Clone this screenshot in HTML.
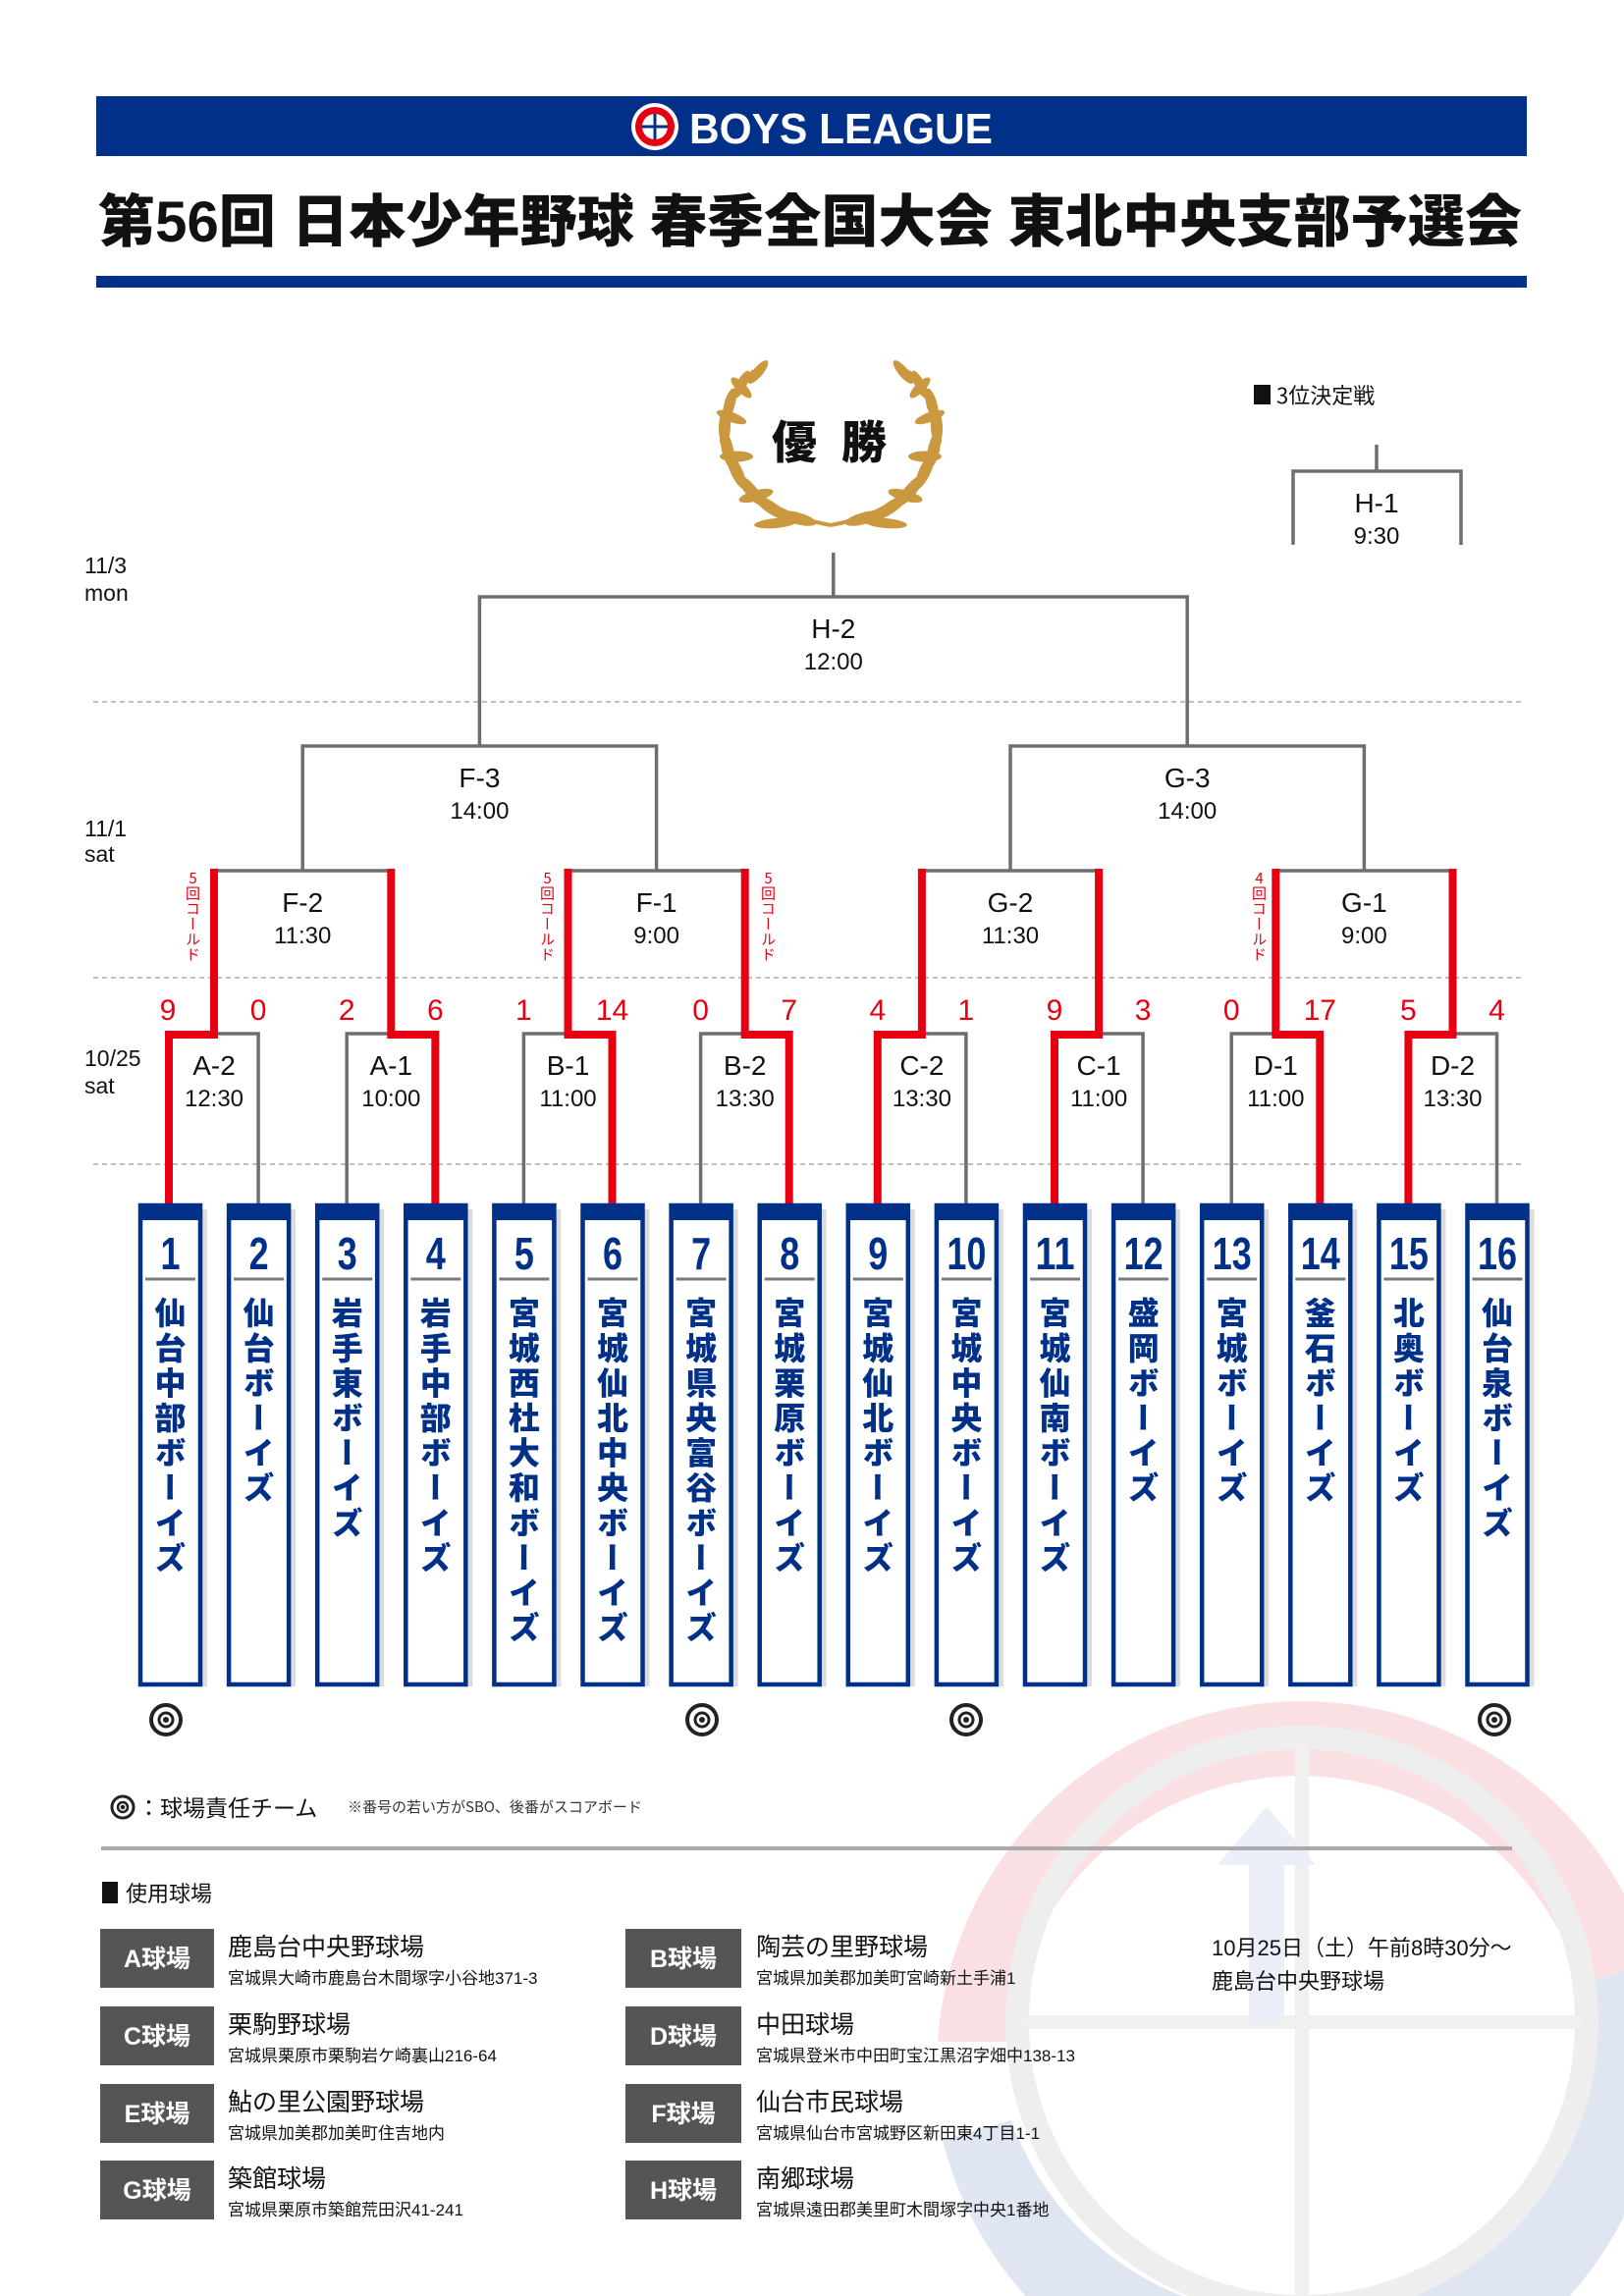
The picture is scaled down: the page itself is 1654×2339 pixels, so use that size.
<!DOCTYPE html>
<html><head><meta charset="utf-8">
<style>
html,body{margin:0;padding:0;background:#fff;width:1654px;height:2339px;overflow:hidden;}
body{position:relative;font-family:"Liberation Sans","Noto Sans CJK JP",sans-serif;}
svg{position:absolute;left:0;top:0;}
.nm{position:absolute;top:1321px;width:40px;writing-mode:vertical-rl;text-orientation:upright;font-family:"Noto Sans CJK JP",sans-serif;font-weight:900;font-size:32px;line-height:40px;letter-spacing:3.6px;color:#003087;}
.cd{position:absolute;top:887px;width:16px;writing-mode:vertical-rl;text-orientation:upright;font-family:"Noto Sans CJK JP",sans-serif;font-size:15px;line-height:16px;letter-spacing:0.5px;color:#e60012;}
</style></head><body>
<svg width="1654" height="2339" viewBox="0 0 1654 2339" xmlns="http://www.w3.org/2000/svg">
<defs>
<g id="bx">
 <rect x="5" y="1232" width="65" height="486" fill="#dcdcdc"/>
 <rect x="2" y="1228" width="61" height="488" fill="#fff" stroke="#003087" stroke-width="4.5"/>
 <rect x="0" y="1226" width="65" height="17" fill="#003087"/>
 <line x1="7" y1="1303" x2="58" y2="1303" stroke="#7a7a7a" stroke-width="3"/>
</g>
</defs>
<!-- watermark -->
<g opacity="0.35">
  <path d="M 955 2080 A 372 372 0 0 1 1683 2000 L 1610 2020 A 300 300 0 0 0 1025 2080 Z" fill="#f2a9b0"/>
  <path d="M 1683 2000 A 372 372 0 0 1 960 2180 L 1030 2160 A 300 300 0 0 0 1610 2020 Z" fill="#a9b6dc"/>
  <circle cx="1326" cy="2060" r="290" fill="none" stroke="#cfcfcf" stroke-width="24"/>
  <line x1="1326" y1="1775" x2="1326" y2="2339" stroke="#d6d6d6" stroke-width="14"/>
  <line x1="1040" y1="2060" x2="1612" y2="2060" stroke="#d6d6d6" stroke-width="14"/>
  <path d="M 1272 2060 L 1272 1900 L 1240 1900 L 1290 1840 L 1340 1900 L 1308 1900 L 1308 2060 Z" fill="#c9d2ea"/>
</g>
<!-- header -->
<rect x="98" y="98" width="1457" height="61" fill="#003087"/>
<circle cx="667" cy="129" r="24" fill="#fff"/>
<circle cx="667" cy="129" r="20" fill="#e60012"/>
<circle cx="667" cy="129" r="13" fill="#fff"/>
<line x1="667" y1="116" x2="667" y2="142" stroke="#003087" stroke-width="3"/>
<line x1="654" y1="129" x2="680" y2="129" stroke="#003087" stroke-width="3"/>
<text x="702" y="146" font-family="Liberation Sans" font-weight="bold" font-size="44" fill="#fff" textLength="309" lengthAdjust="spacingAndGlyphs">BOYS LEAGUE</text>
<text x="100" y="246" font-family="Liberation Sans, Noto Sans CJK JP, sans-serif" font-weight="900" font-size="58" fill="#111" textLength="1450" lengthAdjust="spacingAndGlyphs">第56回 日本少年野球 春季全国大会 東北中央支部予選会</text>
<rect x="98" y="281" width="1457" height="12" fill="#003087"/>

<!-- laurel -->
<g fill="#c9983f">
 <g id="lh">
  <path d="M 846 535 Q 760 520 735 450 Q 738 400 768 378" fill="none" stroke="#c9983f" stroke-width="4"/>
  <ellipse cx="812" cy="528" rx="20" ry="6" transform="rotate(195 812 528)"/>
  <ellipse cx="785" cy="517" rx="20" ry="6" transform="rotate(215 785 517)"/>
  <ellipse cx="765" cy="500" rx="20" ry="6" transform="rotate(230 765 500)"/>
  <ellipse cx="750" cy="480" rx="20" ry="6" transform="rotate(245 750 480)"/>
  <ellipse cx="741" cy="458" rx="19" ry="6" transform="rotate(258 741 458)"/>
  <ellipse cx="738" cy="435" rx="18" ry="6" transform="rotate(272 738 435)"/>
  <ellipse cx="743" cy="412" rx="17" ry="5.5" transform="rotate(285 743 412)"/>
  <ellipse cx="755" cy="392" rx="16" ry="5" transform="rotate(298 755 392)"/>
  <ellipse cx="772" cy="379" rx="15" ry="5" transform="rotate(310 772 379)"/>
  <ellipse cx="770" cy="505" rx="18" ry="5.5" transform="rotate(165 770 505)"/>
  <ellipse cx="750" cy="465" rx="17" ry="5.5" transform="rotate(180 750 465)"/>
  <ellipse cx="745" cy="425" rx="16" ry="5" transform="rotate(200 745 425)"/>
  <ellipse cx="755" cy="395" rx="14" ry="5" transform="rotate(225 755 395)"/>
  <ellipse cx="790" cy="533" rx="22" ry="5" transform="rotate(175 790 533)"/>
 </g>
 <use href="#lh" transform="translate(1692,0) scale(-1,1)"/>
</g>
<text x="786" y="467" font-family="Noto Sans CJK JP, sans-serif" font-weight="900" font-size="46" fill="#111">優</text>
<text x="857" y="467" font-family="Noto Sans CJK JP, sans-serif" font-weight="900" font-size="46" fill="#111">勝</text>

<!-- 3位決定戦 -->
<rect x="1277" y="392" width="17" height="20" fill="#111"/>
<text x="1300" y="411" font-family="Noto Sans CJK JP, sans-serif" font-size="22" fill="#111">3位決定戦</text>

<!-- dashed -->
<g stroke="#aaa" stroke-width="1.5" stroke-dasharray="5 4">
<line x1="95" y1="715" x2="1552" y2="715"/>
<line x1="95" y1="996" x2="1552" y2="996"/>
<line x1="95" y1="1186" x2="1552" y2="1186"/>
</g>

<!-- dates -->
<g font-family="Liberation Sans, sans-serif" font-size="23" fill="#111">
<text x="86" y="584">11/3</text><text x="86" y="612">mon</text>
<text x="86" y="852">11/1</text><text x="86" y="878">sat</text>
<text x="86" y="1086">10/25</text><text x="86" y="1114">sat</text>
</g>

<!-- gray bracket lines -->
<g fill="none" stroke="#6e6e6e" stroke-width="3.5" stroke-linejoin="miter">
<path d="M1402 453 V480 M1317 555 V480 H1488 V555"/>
<path d="M848.8 563 V608 M488.4 760 V608 H1209.2 V760"/>
<path d="M308.2 887 V760 H668.6 V887"/>
<path d="M1029 887 V760 H1389.4 V887"/>
<path d="M218 1053 V887 H398.3 V1053"/>
<path d="M578.5 1053 V887 H758.7 V1053"/>
<path d="M938.9 1053 V887 H1119.1 V1053"/>
<path d="M1299.3 1053 V887 H1479.5 V1053"/>
<path d="M173 1226 V1053 H263.1 V1226"/>
<path d="M353.2 1226 V1053 H443.3 V1226"/>
<path d="M533.4 1226 V1053 H623.5 V1226"/>
<path d="M713.6 1226 V1053 H803.7 V1226"/>
<path d="M893.8 1226 V1053 H983.9 V1226"/>
<path d="M1074 1226 V1053 H1164.1 V1226"/>
<path d="M1254.2 1226 V1053 H1344.3 V1226"/>
<path d="M1434.4 1226 V1053 H1524.5 V1226"/>
</g>
<!-- red winner paths -->
<g fill="none" stroke="#e60012" stroke-width="8" stroke-linejoin="miter">
<path d="M172 1226 V1054 H218 V885"/>
<path d="M443.3 1226 V1054 H398.3 V885"/>
<path d="M623.5 1226 V1054 H578.5 V885"/>
<path d="M803.7 1226 V1054 H758.7 V885"/>
<path d="M893.8 1226 V1054 H938.9 V885"/>
<path d="M1074 1226 V1054 H1119.1 V885"/>
<path d="M1344.3 1226 V1054 H1299.3 V885"/>
<path d="M1434.4 1226 V1054 H1479.5 V885"/>
</g>

<!-- match labels -->
<g font-family="Liberation Sans, sans-serif" fill="#111" text-anchor="middle">
<g font-size="28">
<text x="1402" y="522">H-1</text>
<text x="848.8" y="650">H-2</text>
<text x="488.4" y="802">F-3</text><text x="1209.2" y="802">G-3</text>
<text x="308.2" y="929">F-2</text><text x="668.6" y="929">F-1</text><text x="1029" y="929">G-2</text><text x="1389.4" y="929">G-1</text>
<text x="218" y="1095">A-2</text><text x="398.3" y="1095">A-1</text><text x="578.5" y="1095">B-1</text><text x="758.7" y="1095">B-2</text>
<text x="938.9" y="1095">C-2</text><text x="1119.1" y="1095">C-1</text><text x="1299.3" y="1095">D-1</text><text x="1479.5" y="1095">D-2</text>
</g>
<g font-size="24">
<text x="1402" y="554">9:30</text>
<text x="848.8" y="682">12:00</text>
<text x="488.4" y="834">14:00</text><text x="1209.2" y="834">14:00</text>
<text x="308.2" y="961">11:30</text><text x="668.6" y="961">9:00</text><text x="1029" y="961">11:30</text><text x="1389.4" y="961">9:00</text>
<text x="218" y="1127">12:30</text><text x="398.3" y="1127">10:00</text><text x="578.5" y="1127">11:00</text><text x="758.7" y="1127">13:30</text>
<text x="938.9" y="1127">13:30</text><text x="1119.1" y="1127">11:00</text><text x="1299.3" y="1127">11:00</text><text x="1479.5" y="1127">13:30</text>
</g>
</g>

<!-- scores -->
<g font-family="Liberation Sans, sans-serif" font-size="30" fill="#e60012" text-anchor="middle">
<text x="171" y="1039">9</text><text x="263.1" y="1039">0</text><text x="353.2" y="1039">2</text><text x="443.3" y="1039">6</text>
<text x="533.4" y="1039">1</text><text x="623.5" y="1039">14</text><text x="713.6" y="1039">0</text><text x="803.7" y="1039">7</text>
<text x="893.8" y="1039">4</text><text x="983.9" y="1039">1</text><text x="1074" y="1039">9</text><text x="1164.1" y="1039">3</text>
<text x="1254.2" y="1039">0</text><text x="1344.3" y="1039">17</text><text x="1434.4" y="1039">5</text><text x="1524.5" y="1039">4</text>
</g>

<!-- team boxes -->
<use href="#bx" x="141"/><use href="#bx" x="231.1"/><use href="#bx" x="321.2"/><use href="#bx" x="411.3"/>
<use href="#bx" x="501.4"/><use href="#bx" x="591.5"/><use href="#bx" x="681.6"/><use href="#bx" x="771.7"/>
<use href="#bx" x="861.8"/><use href="#bx" x="951.9"/><use href="#bx" x="1042"/><use href="#bx" x="1132.1"/>
<use href="#bx" x="1222.2"/><use href="#bx" x="1312.3"/><use href="#bx" x="1402.4"/><use href="#bx" x="1492.5"/>
<g font-family="Liberation Sans Narrow, Liberation Sans, sans-serif" font-weight="bold" font-size="46" fill="#003087" text-anchor="middle">
<text x="173.5" y="1293" textLength="20" lengthAdjust="spacingAndGlyphs">1</text><text x="263.6" y="1293" textLength="20" lengthAdjust="spacingAndGlyphs">2</text><text x="353.7" y="1293" textLength="20" lengthAdjust="spacingAndGlyphs">3</text><text x="443.8" y="1293" textLength="20" lengthAdjust="spacingAndGlyphs">4</text>
<text x="533.9" y="1293" textLength="20" lengthAdjust="spacingAndGlyphs">5</text><text x="624" y="1293" textLength="20" lengthAdjust="spacingAndGlyphs">6</text><text x="714.1" y="1293" textLength="20" lengthAdjust="spacingAndGlyphs">7</text><text x="804.2" y="1293" textLength="20" lengthAdjust="spacingAndGlyphs">8</text>
<text x="894.3" y="1293" textLength="20" lengthAdjust="spacingAndGlyphs">9</text>
<text x="984.4" y="1293" textLength="40" lengthAdjust="spacingAndGlyphs">10</text>
<text x="1074.5" y="1293" textLength="40" lengthAdjust="spacingAndGlyphs">11</text>
<text x="1164.6" y="1293" textLength="40" lengthAdjust="spacingAndGlyphs">12</text>
<text x="1254.7" y="1293" textLength="40" lengthAdjust="spacingAndGlyphs">13</text>
<text x="1344.8" y="1293" textLength="40" lengthAdjust="spacingAndGlyphs">14</text>
<text x="1434.9" y="1293" textLength="40" lengthAdjust="spacingAndGlyphs">15</text>
<text x="1525" y="1293" textLength="40" lengthAdjust="spacingAndGlyphs">16</text>
</g>

<!-- bullseyes -->
<g fill="none" stroke="#222">
<g transform="translate(169,1752)"><circle r="15" stroke-width="4"/><circle r="7" stroke-width="3"/><circle r="2.5" fill="#222"/></g>
<g transform="translate(715,1752)"><circle r="15" stroke-width="4"/><circle r="7" stroke-width="3"/><circle r="2.5" fill="#222"/></g>
<g transform="translate(984,1752)"><circle r="15" stroke-width="4"/><circle r="7" stroke-width="3"/><circle r="2.5" fill="#222"/></g>
<g transform="translate(1522,1752)"><circle r="15" stroke-width="4"/><circle r="7" stroke-width="3"/><circle r="2.5" fill="#222"/></g>
<g transform="translate(125,1841)"><circle r="11" stroke-width="3"/><circle r="5" stroke-width="2.5"/><circle r="1.8" fill="#222"/></g>
</g>
<g font-family="Noto Sans CJK JP, sans-serif" fill="#111">
<text x="140" y="1850" font-size="23">：球場責任チーム</text>
<text x="354" y="1846" font-size="15" fill="#333">※番号の若い方がSBO、後番がスコアボード</text>
</g>
<rect x="103" y="1881" width="1437" height="4" fill="#aaa"/>
<rect x="104" y="1917" width="16" height="22" fill="#111"/>
<text x="128" y="1937" font-family="Noto Sans CJK JP, sans-serif" font-size="22" fill="#111">使用球場</text>

<!-- venues -->
<g font-family="Liberation Sans, Noto Sans CJK JP, sans-serif">
<g fill="#555">
<rect x="102" y="1965" width="116" height="60"/><rect x="637" y="1965" width="118" height="60"/>
<rect x="102" y="2044" width="116" height="60"/><rect x="637" y="2044" width="118" height="60"/>
<rect x="102" y="2123" width="116" height="60"/><rect x="637" y="2123" width="118" height="60"/>
<rect x="102" y="2201" width="116" height="60"/><rect x="637" y="2201" width="118" height="60"/>
</g>
<g fill="#fff" font-size="25" font-weight="bold" text-anchor="middle">
<text x="160" y="2004">A球場</text><text x="696" y="2004">B球場</text>
<text x="160" y="2083">C球場</text><text x="696" y="2083">D球場</text>
<text x="160" y="2162">E球場</text><text x="696" y="2162">F球場</text>
<text x="160" y="2240">G球場</text><text x="696" y="2240">H球場</text>
</g>
<g fill="#111" font-size="25">
<text x="232" y="1992">鹿島台中央野球場</text><text x="770" y="1992">陶芸の里野球場</text>
<text x="232" y="2071">栗駒野球場</text><text x="770" y="2071">中田球場</text>
<text x="232" y="2150">鮎の里公園野球場</text><text x="770" y="2150">仙台市民球場</text>
<text x="232" y="2228">築館球場</text><text x="770" y="2228">南郷球場</text>
</g>
<g fill="#111" font-size="17">
<text x="232" y="2021">宮城県大崎市鹿島台木間塚字小谷地371-3</text><text x="770" y="2021">宮城県加美郡加美町宮崎新土手浦1</text>
<text x="232" y="2100">宮城県栗原市栗駒岩ケ崎裏山216-64</text><text x="770" y="2100">宮城県登米市中田町宝江黒沼字畑中138-13</text>
<text x="232" y="2179">宮城県加美郡加美町住吉地内</text><text x="770" y="2179">宮城県仙台市宮城野区新田東4丁目1-1</text>
<text x="232" y="2257">宮城県栗原市築館荒田沢41-241</text><text x="770" y="2257">宮城県遠田郡美里町木間塚字中央1番地</text>
</g>
<g fill="#111" font-size="22">
<text x="1234" y="1992">10月25日（土）午前8時30分〜</text>
<text x="1234" y="2026">鹿島台中央野球場</text>
</g>
</g>
</svg>

<div class="cd" style="left:188px">5回コールド</div>
<div class="cd" style="left:549px">5回コールド</div>
<div class="cd" style="left:774px">5回コールド</div>
<div class="cd" style="left:1274px">4回コールド</div>

<div class="nm" style="left:153.5px">仙台中部ボーイズ</div>
<div class="nm" style="left:243.6px">仙台ボーイズ</div>
<div class="nm" style="left:333.7px">岩手東ボーイズ</div>
<div class="nm" style="left:423.8px">岩手中部ボーイズ</div>
<div class="nm" style="left:513.9px">宮城西杜大和ボーイズ</div>
<div class="nm" style="left:604px">宮城仙北中央ボーイズ</div>
<div class="nm" style="left:694.1px">宮城県央富谷ボーイズ</div>
<div class="nm" style="left:784.2px">宮城栗原ボーイズ</div>
<div class="nm" style="left:874.3px">宮城仙北ボーイズ</div>
<div class="nm" style="left:964.4px">宮城中央ボーイズ</div>
<div class="nm" style="left:1054.5px">宮城仙南ボーイズ</div>
<div class="nm" style="left:1144.6px">盛岡ボーイズ</div>
<div class="nm" style="left:1234.7px">宮城ボーイズ</div>
<div class="nm" style="left:1324.8px">釜石ボーイズ</div>
<div class="nm" style="left:1414.9px">北奥ボーイズ</div>
<div class="nm" style="left:1505px">仙台泉ボーイズ</div>
</body></html>
